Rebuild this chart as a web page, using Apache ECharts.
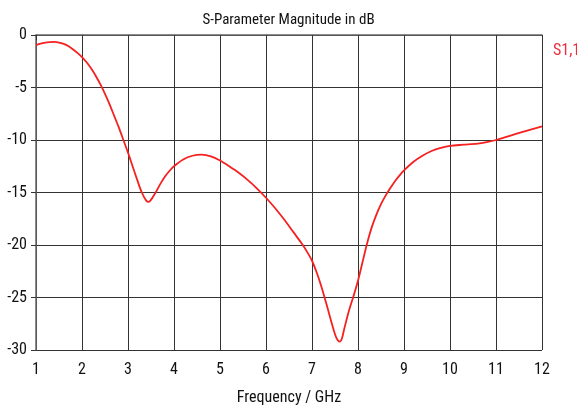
<!DOCTYPE html>
<html>
<head>
<meta charset="utf-8">
<script src="https://cdn.jsdelivr.net/npm/echarts@6/dist/echarts.min.js"></script>
<style>
  html, body { margin: 0; padding: 0; background: #fff; }
  #chart { width: 577px; height: 411px; }
</style>
</head>
<body>
<div id="chart"></div>
<script>
// frequency in GHz, S1,1 magnitude in dB
const freq = [1.0, 1.1, 1.2, 1.3, 1.4, 1.5, 1.6, 1.7, 1.8, 1.9, 2.0, 2.1, 2.2, 2.3, 2.4, 2.5, 2.6, 2.7, 2.8, 2.9, 3.0, 3.1, 3.2, 3.3, 3.4, 3.45, 3.5, 3.6, 3.7, 3.8, 3.9, 4.0, 4.2, 4.4, 4.6, 4.8, 5.0, 5.2, 5.4, 5.6, 5.8, 6.0, 6.2, 6.4, 6.6, 6.8, 6.9, 7.0, 7.1, 7.2, 7.3, 7.4, 7.5, 7.55, 7.6, 7.65, 7.7, 7.8, 7.9, 8.0, 8.1, 8.2, 8.3, 8.4, 8.5, 8.6, 8.7, 8.8, 8.9, 9.0, 9.2, 9.4, 9.6, 9.8, 10.0, 10.3, 10.6, 10.8, 11.0, 11.3, 11.6, 12.0];
const s11 = [-0.97, -0.82, -0.72, -0.67, -0.66, -0.72, -0.85, -1.05, -1.35, -1.7, -2.1, -2.6, -3.2, -3.9, -4.7, -5.6, -6.6, -7.7, -8.8, -10.0, -11.2, -12.5, -13.8, -15.0, -15.8, -15.9, -15.7, -15.0, -14.2, -13.5, -12.95, -12.5, -11.85, -11.5, -11.4, -11.55, -11.95, -12.5, -13.1, -13.8, -14.6, -15.5, -16.5, -17.6, -18.8, -20.0, -20.7, -21.5, -22.6, -23.9, -25.4, -27.0, -28.5, -29.0, -29.2, -28.9, -28.0, -26.3, -24.9, -23.4, -21.6, -19.8, -18.3, -17.1, -16.1, -15.3, -14.6, -13.95, -13.4, -12.9, -12.1, -11.5, -11.05, -10.75, -10.55, -10.45, -10.35, -10.2, -10.0, -9.6, -9.2, -8.7];

const font = "'Roboto Condensed', 'DejaVu Sans Condensed', sans-serif";
const chart = echarts.init(document.getElementById('chart'));

chart.setOption({
  animation: false,
  title: {
    text: 'S-Parameter Magnitude in dB',
    left: 'center',
    top: 8,
    textStyle: { fontFamily: font, fontSize: 15, fontWeight: 'normal', color: '#111' },
  },
  graphic: [{
    type: 'text',
    left: 553,
    top: 43,
    style: { text: 'S1,1', fill: '#ee2c3c', fontFamily: font, fontSize: 16 },
  }],
  grid: { left: 36, right: 35, top: 35, bottom: 59 },
  xAxis: {
    type: 'value',
    min: 1,
    max: 12,
    interval: 1,
    name: 'Frequency / GHz',
    nameLocation: 'middle',
    nameGap: 40,
    nameTextStyle: { fontFamily: font, fontSize: 16, color: '#111' },
    axisLine: { lineStyle: { color: '#666', width: 1.5 } },
    axisTick: { length: 5, lineStyle: { color: '#333' } },
    axisLabel: { fontFamily: font, fontSize: 16, color: '#111', margin: 12 },
    splitLine: { lineStyle: { color: '#333', width: 1 } },
  },
  yAxis: {
    type: 'value',
    min: -30,
    max: 0,
    interval: 5,
    axisLine: { show: true, lineStyle: { color: '#666', width: 1.5 } },
    axisTick: { show: true, length: 5, lineStyle: { color: '#333' } },
    axisLabel: { fontFamily: font, fontSize: 16, color: '#111', margin: 9 },
    splitLine: { lineStyle: { color: '#333', width: 1 } },
  },
  series: [{
    type: 'line',
    name: 'S1,1',
    data: freq.map((f, i) => [f, s11[i]]),
    smooth: 0.3,
    showSymbol: false,
    lineStyle: { color: '#f52020', width: 1.8 },
  }],
});
</script>
</body>
</html>
